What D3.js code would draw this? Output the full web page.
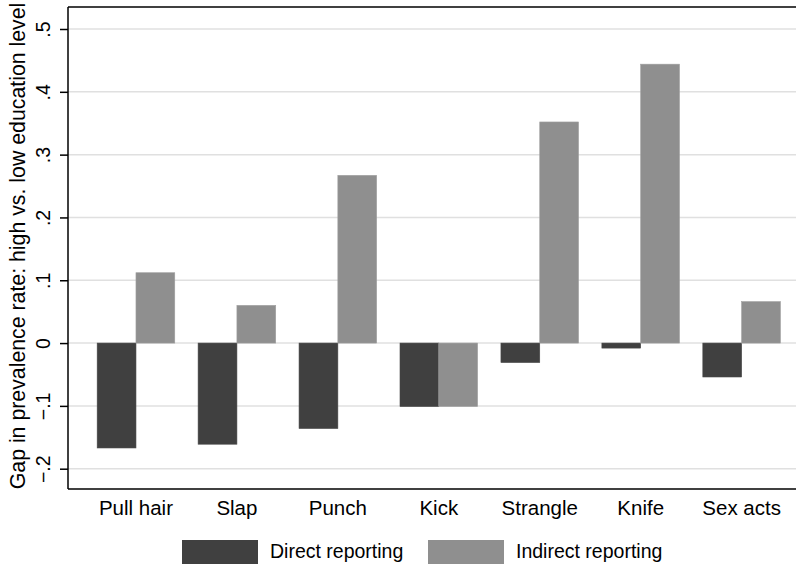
<!DOCTYPE html>
<html>
<head>
<meta charset="utf-8">
<script src="https://cdn.jsdelivr.net/npm/d3@7"></script>
<style>
  html, body { margin: 0; padding: 0; background: #fff; }
  svg { display: block; }
  text { font-family: "Liberation Sans", Arial, Helvetica, sans-serif; fill: #000; }
</style>
</head>
<body>
<div id="chart"></div>
<script>
const categories = ["Pull hair", "Slap", "Punch", "Kick", "Strangle", "Knife", "Sex acts"];
const seriesNames = ["Direct reporting", "Indirect reporting"];
const directValues = [-0.167, -0.161, -0.136, -0.101, -0.031, -0.008, -0.054];
const indirectValues = [0.112, 0.060, 0.267, -0.101, 0.352, 0.444, 0.066];
const yTicks = [-0.2, -0.1, 0, 0.1, 0.2, 0.3, 0.4, 0.5];
const yTickLabels = ["\u2212.2", "\u2212.1", "0", ".1", ".2", ".3", ".4", ".5"];
const yTitle = "Gap in prevalence rate: high vs. low education level";
const colors = ["#404040", "#8f8f8f"];

const W = 796, H = 565;
const plotLeft = 68, plotTop = 7, plotBottom = 489;
const fontSize = 19.5;
const labelSize = 20.5;
const titleSize = 21.3;

const svg = d3.select("#chart").append("svg").attr("width", W).attr("height", H);

const x = d3.scaleBand().domain(categories).range([plotLeft, 809.6])
  .paddingInner(0.2313).paddingOuter(0.289);
const xs = d3.scaleBand().domain(seriesNames).range([0, x.bandwidth()]).padding(0);
const y = d3.scaleLinear().domain([-0.2, 0.5]).range([468.7, 29]);

// gridlines
svg.append("g").selectAll("line").data(yTicks).join("line")
  .attr("x1", plotLeft).attr("x2", W)
  .attr("y1", d => y(d)).attr("y2", d => y(d))
  .attr("stroke", "#e0e0e0").attr("stroke-width", 1.5);

// bars
const data = [];
categories.forEach((c, i) => {
  data.push({ cat: c, s: seriesNames[0], v: directValues[i] });
  data.push({ cat: c, s: seriesNames[1], v: indirectValues[i] });
});
svg.append("g").selectAll("rect").data(data).join("rect")
  .attr("x", d => x(d.cat) + xs(d.s))
  .attr("width", xs.bandwidth())
  .attr("y", d => Math.min(y(d.v), y(0)))
  .attr("height", d => Math.abs(y(d.v) - y(0)))
  .attr("fill", d => colors[seriesNames.indexOf(d.s)])
  .attr("stroke", d => d3.color(colors[seriesNames.indexOf(d.s)]).brighter(0.3))
  .attr("stroke-width", 0.6);

// y axis
const yAxis = d3.axisLeft(y).tickValues(yTicks).tickSize(8).tickPadding(0)
  .tickFormat((d, i) => yTickLabels[i]);
const gy = svg.append("g").attr("transform", `translate(${plotLeft},0)`).call(yAxis);
gy.select(".domain").remove();
gy.selectAll(".tick line").attr("stroke", "#000").attr("stroke-width", 1.5);
gy.selectAll(".tick text")
  .attr("x", 0).attr("dy", null)
  .attr("transform", "translate(-18,0) rotate(-90)")
  .attr("text-anchor", "middle")
  .attr("y", 0)
  .style("font-size", fontSize + "px")
  .style("font-family", '"Liberation Sans", Arial, sans-serif')
  .attr("fill", "#000");

// axis lines (left, top, bottom)
svg.append("line").attr("x1", plotLeft).attr("x2", plotLeft).attr("y1", plotTop).attr("y2", plotBottom)
  .attr("stroke", "#000").attr("stroke-width", 1.5);
svg.append("line").attr("x1", plotLeft).attr("x2", W).attr("y1", plotTop).attr("y2", plotTop)
  .attr("stroke", "#000").attr("stroke-width", 1.5);
svg.append("line").attr("x1", plotLeft).attr("x2", W).attr("y1", plotBottom).attr("y2", plotBottom)
  .attr("stroke", "#000").attr("stroke-width", 1.5);

// x category labels
svg.append("g").selectAll("text").data(categories).join("text")
  .attr("x", d => x(d) + x.bandwidth() / 2)
  .attr("y", 514.5)
  .attr("text-anchor", "middle")
  .style("font-size", labelSize + "px")
  .text(d => d);

// y title
svg.append("text")
  .attr("transform", `translate(24.5,246) rotate(-90)`)
  .attr("text-anchor", "middle")
  .style("font-size", titleSize + "px")
  .text(yTitle);

// legend
const legendItems = [
  { name: seriesNames[0], color: colors[0], bx: 182, tx: 270 },
  { name: seriesNames[1], color: colors[1], bx: 428, tx: 516 }
];
const lg = svg.append("g");
lg.selectAll("rect").data(legendItems).join("rect")
  .attr("x", d => d.bx).attr("y", 540).attr("width", 76).attr("height", 24)
  .attr("fill", d => d.color);
lg.selectAll("text").data(legendItems).join("text")
  .attr("x", d => d.tx).attr("y", 558)
  .style("font-size", fontSize + "px")
  .text(d => d.name);
</script>
</body>
</html>
